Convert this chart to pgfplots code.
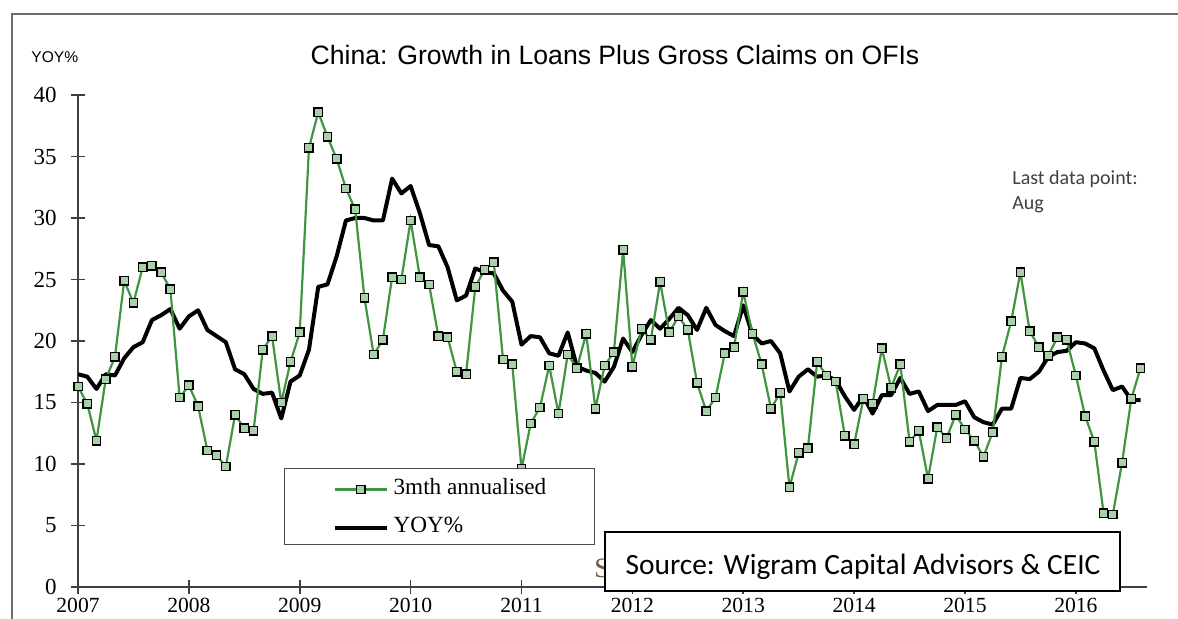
\documentclass[border=0pt]{standalone}
\usepackage{fontspec}
\setmainfont{Liberation Serif}
\newfontfamily\arial{Liberation Sans}
\newfontfamily\calibri{Carlito}
\usepackage{pgfplots}
\usepackage{pgfplotstable}
\pgfplotsset{compat=1.18}
\definecolor{lgreen}{RGB}{64,150,64}
\definecolor{frame}{RGB}{110,110,110}

% month index (0 = Jan 2007), 3mth annualised, YOY%
\pgfplotstableread{
m g y
0 16.3 17.3
1 14.9 17.1
2 11.9 16.1
3 16.9 17.3
4 18.7 17.2
5 24.9 18.6
6 23.1 19.5
7 26.0 19.9
8 26.1 21.7
9 25.6 22.1
10 24.2 22.6
11 15.4 21.0
12 16.4 22.0
13 14.7 22.5
14 11.1 20.9
15 10.7 20.4
16 9.8 19.9
17 14.0 17.7
18 12.9 17.3
19 12.7 16.1
20 19.3 15.7
21 20.4 15.8
22 15.0 13.7
23 18.3 16.7
24 20.7 17.2
25 35.7 19.3
26 38.6 24.4
27 36.6 24.6
28 34.8 26.9
29 32.4 29.8
30 30.7 30.0
31 23.5 30.0
32 18.9 29.8
33 20.1 29.8
34 25.2 33.2
35 25.0 32.0
36 29.8 32.6
37 25.2 30.4
38 24.6 27.8
39 20.4 27.7
40 20.3 26.0
41 17.5 23.3
42 17.3 23.7
43 24.4 25.9
44 25.8 25.6
45 26.4 25.5
46 18.5 24.1
47 18.1 23.2
48 9.6 19.7
49 13.3 20.4
50 14.6 20.3
51 18.0 19.0
52 14.1 18.8
53 18.9 20.7
54 17.8 17.9
55 20.6 17.6
56 14.5 17.4
57 18.0 16.7
58 19.1 17.9
59 27.4 20.2
60 17.9 19.1
61 21.0 20.5
62 20.1 21.7
63 24.8 21.0
64 20.7 21.8
65 22.0 22.7
66 20.9 22.1
67 16.6 20.9
68 14.3 22.7
69 15.4 21.3
70 19.0 20.8
71 19.5 20.4
72 24.0 22.9
73 20.6 20.5
74 18.1 19.8
75 14.5 20.0
76 15.8 19.0
77 8.1 15.9
78 10.9 17.1
79 11.3 17.7
80 18.3 17.1
81 17.2 17.2
82 16.7 16.8
83 12.3 15.5
84 11.6 14.4
85 15.3 15.5
86 14.9 14.1
87 19.4 15.6
88 16.2 15.6
89 18.1 17.0
90 11.8 15.7
91 12.7 15.9
92 8.8 14.3
93 13.0 14.8
94 12.1 14.8
95 14.0 14.8
96 12.8 15.1
97 11.9 13.8
98 10.6 13.4
99 12.6 13.2
100 18.7 14.5
101 21.6 14.5
102 25.6 17.0
103 20.8 16.9
104 19.5 17.5
105 18.8 18.7
106 20.3 19.1
107 20.1 19.2
108 17.2 19.9
109 13.9 19.8
110 11.8 19.4
111 6.0 17.6
112 5.9 16.0
113 10.1 16.3
114 15.3 15.2
115 17.8 15.2
}\loans

\begin{document}
\begin{tikzpicture}
% pixel grid of the reference, origin top left
\begin{scope}[x=0.5pt,y=-0.5pt]
\path[use as bounding box] (0,0) rectangle (1178,619);
\fill[white] (0,0) rectangle (1178,619);
\draw[frame, line width=1pt] (12,619) -- (12,14) -- (1178,14);
\node[anchor=base west, inner sep=0pt, font=\arial\fontsize{7.8}{9}\selectfont] at (31,63) {YOY\%};
\node[anchor=base, inner sep=0pt, font=\arial\fontsize{13.3}{16}\selectfont] at (615,65) {China: Growth in Loans Plus Gross Claims on OFIs};
\node[anchor=base west, inner sep=0pt, text=black!75, font=\calibri\fontsize{10}{12}\selectfont] at (1012,185) {Last data point:};
\node[anchor=base west, inner sep=0pt, text=black!75, font=\calibri\fontsize{10}{12}\selectfont] at (1012,210) {Aug};
\end{scope}

\begin{axis}[
    at={(39pt,-293.5pt)}, anchor=south west,
    scale only axis, width=534.5pt, height=246pt,
    xmin=0, xmax=115.7, ymin=0, ymax=40,
    axis lines=left,
    axis line style={-, draw=black!75, line width=0.8pt},
    clip=false,
    xtick={0,12,...,108},
    xticklabels={2007,2008,2009,2010,2011,2012,2013,2014,2015,2016},
    ytick={0,5,...,40},
    tick align=center, major tick length=7pt,
    tick style={black!75, line width=0.8pt},
    /pgf/number format/assume math mode=true,
    yticklabel style={font=\fontsize{11.5}{12}\selectfont, anchor=east, inner sep=0pt, xshift=-7pt},
    xticklabel style={font=\fontsize{10.8}{12}\selectfont, anchor=north, inner sep=0pt, yshift=-2pt},
    legend style={at={(0.1927,0.2419)}, anchor=north west, draw=black!70, line width=0.6pt,
        fill=white, inner xsep=24pt, inner ysep=3pt, row sep=6pt, column sep=2.5pt,
        font=\fontsize{11.6}{13}\selectfont,
        nodes={inner sep=0pt, text height=10pt, text depth=3pt, anchor=base west}},
    legend cell align=left,
    reverse legend,
    legend image code/.code={\draw[mark repeat=2,mark phase=2,yshift=2.5pt,#1] plot coordinates {(0pt,0pt) (13pt,0pt) (26pt,0pt)};},
]
\addplot[black, line width=2pt, line join=round, no markers] table[x=m, y=y] {\loans};
\addlegendentry{YOY\%}
\addplot[lgreen, line width=1.1pt, mark=square*, mark size=2.1pt,
    mark options={draw=black, fill=lgreen!45!white, line width=0.7pt, solid}] table[x=m, y=g] {\loans};
\addlegendentry{3mth annualised}
\end{axis}

\begin{scope}[x=0.5pt,y=-0.5pt]
\node[anchor=base west, inner sep=0pt, text={rgb,255:red,110;green,90;blue,60}, font=\fontsize{14}{16}\selectfont] at (594,578) {S};
\draw[black, line width=0.6pt, fill=white] (605,532) rectangle (1120,591);
\node[anchor=base, inner sep=0pt, font=\calibri\fontsize{14.7}{17}\selectfont] at (863,575) {Source: Wigram Capital Advisors \& CEIC};
\end{scope}
\end{tikzpicture}
\end{document}
